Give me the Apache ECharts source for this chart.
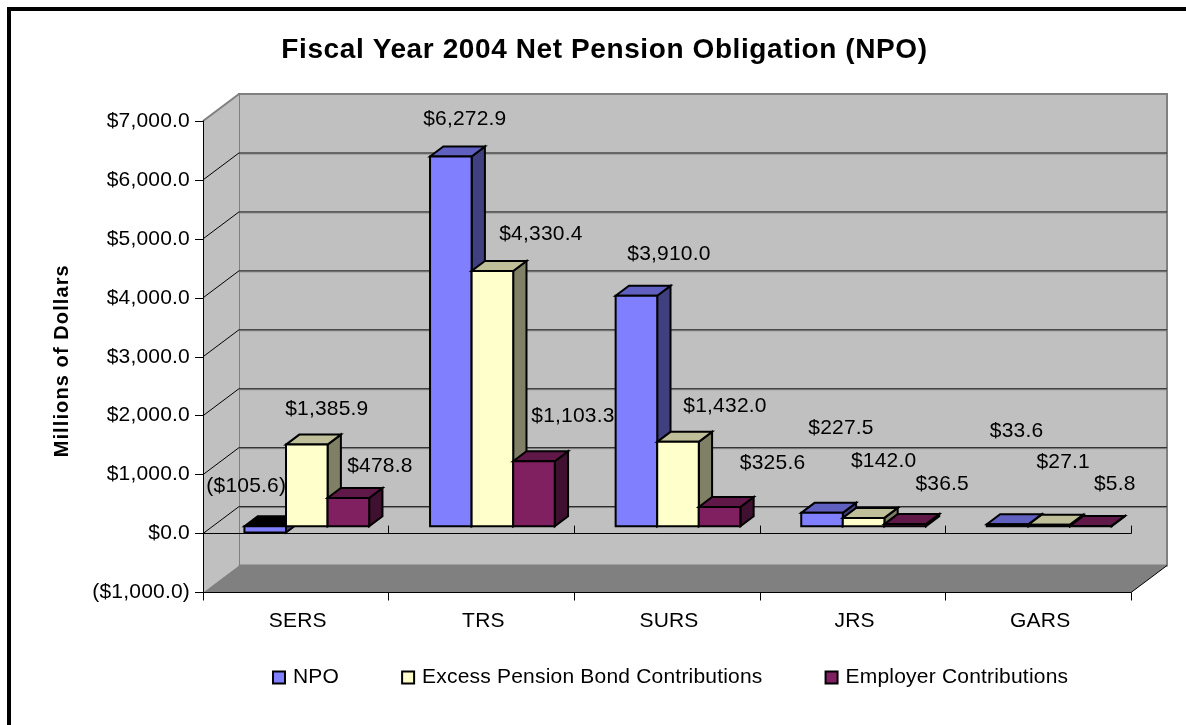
<!DOCTYPE html>
<html>
<head>
<meta charset="utf-8">
<style>html,body{margin:0;padding:0;background:#fff}#chart{width:1186px;height:725px}</style>
<script src="https://cdn.jsdelivr.net/npm/echarts@6/dist/echarts.min.js"></script>
</head>
<body>
<div id="chart"></div>
<script>
// Fiscal Year 2004 net pension obligation by retirement system
const categories = ['SERS', 'TRS', 'SURS', 'JRS', 'GARS'];
const npo = [-105.6, 6272.9, 3910.0, 227.5, 33.6];
const excessBond = [1385.9, 4330.4, 1432.0, 142.0, 27.1];
const employer = [478.8, 1103.3, 325.6, 36.5, 5.8];
const valueTicks = [-1000, 0, 1000, 2000, 3000, 4000, 5000, 6000, 7000];

// Pseudo-3D box geometry, in pixels
const wallDepth = [36, -27];
const boxDepth = [13.3, -10];
const boxInset = [11, -7.3];
const boxShare = 0.224;

// Hand placement of each value label, relative to the front-top centre of its box
const labelNudge = [
  [[-19, -40], [14, -37], [32.5, -41.2], [19, -85.1], [9, -93.5]],
  [[20, -35.5], [48.5, -36.5], [47, -35.5], [20, -57.1], [14, -62.5]],
  [[31.5, -31.5], [39, -45.5], [53, -43.5], [37, -39.5], [24, -41.5]]
];

const palettes = [
  { front: '#8080FF', side: '#404080', top: '#6060C0' },
  { front: '#FFFFCC', side: '#808066', top: '#BFBF99' },
  { front: '#802060', side: '#401030', top: '#601848' }
];
const seriesNames = ['NPO', 'Excess Pension Bond Contributions', 'Employer Contributions'];
const seriesValues = [npo, excessBond, employer];
const font = '"Liberation Sans", Arial, sans-serif';

// Slightly open tracking on all chart text; the small bold axis name gets the most
['fillText', 'strokeText', 'measureText'].forEach(method => {
  const original = CanvasRenderingContext2D.prototype[method];
  CanvasRenderingContext2D.prototype[method] = function () {
    const bold = /bold|700/.test(this.font);
    const size = parseFloat((this.font.match(/([\d.]+)px/) || [])[1]) || 0;
    this.letterSpacing = bold ? (size >= 24 ? '0.6px' : '1.1px') : '0.2px';
    return original.apply(this, arguments);
  };
});

function money(v) {
  const s = '$' + Math.abs(v).toLocaleString('en-US', { minimumFractionDigits: 1, maximumFractionDigits: 1 });
  return v < 0 ? '(' + s + ')' : s;
}

function poly(points, fill, stroke, lineWidth) {
  return {
    type: 'polygon',
    shape: { points },
    style: { fill, stroke: stroke || null, lineWidth: lineWidth || 0, lineJoin: 'miter' }
  };
}

function seg(x1, y1, x2, y2, stroke, lineWidth) {
  return { type: 'line', shape: { x1, y1, x2, y2 }, style: { stroke, lineWidth } };
}

// Back wall, left wall, floor and the gridlines running across them
function renderRoom(params, api) {
  const v = api.value(0);
  const cs = params.coordSys;
  const y = api.coord([0, v])[1];
  const [dx, dy] = wallDepth;
  const xl = cs.x, xr = cs.x + cs.width;
  const children = [];
  if (v === valueTicks[0]) {
    const yTop = api.coord([0, valueTicks[valueTicks.length - 1]])[1];
    children.push(
      poly([[xl + dx, yTop + dy], [xr + dx, yTop + dy], [xr + dx, y + dy], [xl + dx, y + dy]], '#C0C0C0', '#808080', 2),
      poly([[xl, yTop], [xl + dx, yTop + dy], [xl + dx, y + dy], [xl, y]], '#C0C0C0'),
      poly([[xl, y], [xr, y], [xr + dx, y + dy], [xl + dx, y + dy]], '#808080')
    );
    children.push(seg(xl, yTop, xl + dx, yTop + dy, '#808080', 2));
    children.push(seg(xl, y, xr, y, '#000', 1));
    children.push(seg(xr, y, xr + dx, y + dy, '#000', 1));
  } else if (v !== valueTicks[valueTicks.length - 1]) {
    children.push(seg(xl, y, xl + dx, y + dy, '#000', 1));
    children.push(seg(xl + dx, y + dy + 1, xr + dx, y + dy + 1, '#808080', 1));
    children.push(seg(xl + dx, y + dy, xr + dx, y + dy, '#222', 1));
  }
  return { type: 'group', children };
}

// One shaded box per category, anchored to the value axis
function boxRenderer(slot) {
  const pal = palettes[slot];
  return function (params, api) {
    const cat = api.value(0);
    const val = api.value(1);
    const band = api.size([1, 0])[0];
    const w = band * boxShare;
    const left = api.coord([cat, 0])[0] + boxInset[0] + (slot - 1.5) * w;
    const yZero = api.coord([cat, 0])[1] + boxInset[1];
    const yVal = api.coord([cat, val])[1] + boxInset[1];
    const yTop = Math.min(yZero, yVal);
    const yBot = Math.max(yZero, yVal);
    const right = left + w;
    const [dx, dy] = boxDepth;
    const edge = { stroke: '#000', lineWidth: 2 };
    return {
      type: 'group',
      children: [
        poly([[right, yTop], [right + dx, yTop + dy], [right + dx, yBot + dy], [right, yBot]], pal.side, edge.stroke, edge.lineWidth),
        poly([[left, yTop], [left + dx, yTop + dy], [right + dx, yTop + dy], [right, yTop]], val < 0 ? '#000' : pal.top, edge.stroke, edge.lineWidth),
        poly([[left, yTop], [right, yTop], [right, yBot], [left, yBot]], pal.front, edge.stroke, edge.lineWidth)
      ]
    };
  };
}

// Value labels float above every box, so they get their own layer
function renderLabels(params, api) {
  const cat = api.value(0);
  const val = api.value(1);
  const slot = api.value(2);
  const band = api.size([1, 0])[0];
  const w = band * boxShare;
  const cx = api.coord([cat, 0])[0] + boxInset[0] + (slot - 1) * w;
  const yTop = api.coord([cat, Math.max(val, 0)])[1] + boxInset[1];
  const [ox, oy] = labelNudge[slot][cat];
  return {
    type: 'text',
    x: cx + ox,
    y: yTop + oy,
    style: {
      text: money(val),
      font: '21px ' + font,
      fill: '#000',
      align: 'center',
      verticalAlign: 'middle'
    }
  };
}

const labelRows = [];
seriesValues.forEach((vals, s) => vals.forEach((v, c) => labelRows.push([c, v, s])));

const option = {
  animation: false,
  backgroundColor: '#fff',
  title: {
    text: 'Fiscal Year 2004 Net Pension Obligation (NPO)',
    left: 604.5,
    top: 36,
    padding: 0,
    textAlign: 'center',
    textStyle: { fontFamily: font, fontWeight: 'bold', fontSize: 28, color: '#000' }
  },
  legend: {
    left: 272,
    top: 667,
    padding: 0,
    itemWidth: 12,
    itemHeight: 12,
    itemGap: 62,
    icon: 'rect',
    data: seriesNames,
    itemStyle: { borderColor: '#000', borderWidth: 2 },
    textStyle: { fontFamily: font, fontSize: 21, color: '#000', padding: [0, 0, 0, 3] }
  },
  grid: { left: 203, right: 55, top: 121, bottom: 132.5, containLabel: false },
  xAxis: [
    {
      type: 'category',
      data: categories,
      position: 'bottom',
      z: 2,
      axisLine: { onZero: false, lineStyle: { color: '#000', width: 1 } },
      axisTick: { show: true, length: 8, lineStyle: { color: '#000', width: 1 } },
      axisLabel: { fontFamily: font, fontSize: 21, color: '#000', margin: 18, padding: [0, 0, 0, 4] }
    },
    {
      type: 'category',
      data: categories,
      z: 2,
      axisLine: { onZero: true, onZeroAxisIndex: 0, lineStyle: { color: '#000', width: 1 } },
      axisTick: { show: true, length: 8, lineStyle: { color: '#000', width: 1 } },
      axisLabel: { show: false }
    }
  ],
  yAxis: {
    type: 'value',
    min: -1000,
    max: 7000,
    interval: 1000,
    z: 2,
    name: 'Millions of Dollars',
    nameLocation: 'middle',
    nameRotate: 90,
    nameGap: 130,
    nameTextStyle: { fontFamily: font, fontWeight: 'bold', fontSize: 20, color: '#000', padding: [0, 8, 0, 0] },
    axisLine: { show: true, lineStyle: { color: '#000', width: 1 } },
    axisTick: { show: true, length: 8, lineStyle: { color: '#000', width: 1 } },
    splitLine: { show: false },
    axisLabel: { fontFamily: font, fontSize: 21, color: '#000', margin: 13, formatter: money }
  },
  graphic: [{
    type: 'polyline',
    shape: { points: [[9, 740], [9, 9], [1200, 9]] },
    style: { fill: null, stroke: '#000', lineWidth: 4 },
    silent: true
  }],
  series: [
    {
      type: 'custom',
      name: 'room',
      z: 1,
      silent: true,
      renderItem: renderRoom,
      encode: { y: 0 },
      data: valueTicks.map(v => [v])
    },
    ...seriesNames.map((name, s) => ({
      type: 'custom',
      name,
      z: 3,
      silent: true,
      itemStyle: { color: palettes[s].front },
      renderItem: boxRenderer(s),
      encode: { x: 0, y: 1 },
      data: seriesValues[s].map((v, c) => [c, v])
    })),
    {
      type: 'custom',
      name: 'values',
      z: 4,
      silent: true,
      renderItem: renderLabels,
      encode: { x: 0, y: 1 },
      data: labelRows
    }
  ]
};

const chart = echarts.init(document.getElementById('chart'), null, { renderer: 'canvas' });
chart.setOption(option);
</script>
</body>
</html>
